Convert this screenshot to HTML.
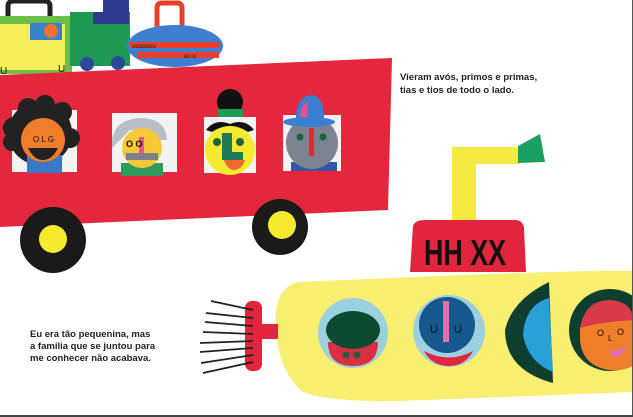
<!DOCTYPE html>
<html><head><meta charset="utf-8"><style>
html,body{margin:0;padding:0;background:#fff;}
svg{display:block;}
text{font-family:"Liberation Sans",sans-serif;}
</style></head><body>
<svg width="633" height="417" viewBox="0 0 633 417" xmlns="http://www.w3.org/2000/svg">
<rect width="633" height="417" fill="#fff"/>
<!-- train -->
<path d="M8 16 V6 Q8 1 14 1 H44 Q50 1 50 6 V16" fill="none" stroke="#222" stroke-width="5"/>
<rect x="0" y="16" width="72" height="58" fill="#6cc04a"/>
<rect x="0" y="24" width="65" height="46" fill="#f5ef5a"/>
<rect x="30" y="23" width="32" height="17" fill="#3b82c8"/>
<circle cx="51" cy="31" r="7" fill="#f07030"/>
<rect x="70" y="12" width="60" height="54" fill="#1e9a55"/>
<rect x="93" y="0" width="36" height="24" fill="#2d3b8a"/>
<rect x="93" y="0" width="10" height="12" fill="#fff"/>
<rect x="103" y="0" width="26" height="2" fill="#2d3b8a"/>
<circle cx="87" cy="64" r="7" fill="#2d4a9a"/>
<circle cx="118" cy="63" r="7" fill="#2d4a9a"/>
<text x="0" y="74" font-size="10" fill="#111">U</text>
<text x="58" y="72" font-size="10" fill="#111">U</text>
<!-- suitcase -->
<path d="M157 28 V8 Q157 3 162 3 H177 Q182 3 182 8 V28" fill="none" stroke="#e8402a" stroke-width="5"/>
<ellipse cx="175" cy="46" rx="48" ry="21" fill="#3f7fcf"/>
<rect x="129" y="42" width="90" height="6" fill="#e8402a"/>
<rect x="137" y="52" width="82" height="6" fill="#e8402a"/>
<text x="132" y="48" font-size="6" fill="#111">ʊʊʊʊʊʊʊ</text>
<text x="184" y="58" font-size="6" fill="#111">ʊʊ ʊ</text>
<!-- bus -->
<polygon points="0,75 392,58 388,210 0,227" fill="#e4273c"/>
<rect x="12" y="110" width="65" height="62" fill="#f3f3f3"/>
<rect x="112" y="113" width="65" height="59" fill="#f3f3f3"/>
<rect x="204" y="117" width="52" height="56" fill="#f3f3f3"/>
<rect x="283" y="115" width="58" height="56" fill="#f3f3f3"/>
<!-- face 1 -->
<g fill="#222">
<circle cx="40" cy="133" r="32"/>
<circle cx="14" cy="128" r="11"/><circle cx="12" cy="142" r="9"/><circle cx="70" cy="138" r="10"/>
<circle cx="28" cy="108" r="10"/><circle cx="45" cy="105" r="10"/><circle cx="62" cy="112" r="10"/>
</g>
<rect x="27" y="155" width="35" height="18" fill="#3b78c8"/>
<circle cx="43" cy="140" r="22" fill="#f07d2a"/>
<path d="M28 148 H58 Q52 160 43 160 Q34 160 28 148Z" fill="#222"/>
<text x="33" y="142" font-size="8" fill="#111">O L G</text>
<!-- face 2 -->
<path d="M112 148 Q110 120 140 118 Q166 118 167 140 L160 140 Q150 128 130 130 Z" fill="#b8bec6"/>
<rect x="121" y="163" width="42" height="13" fill="#2f9a5a"/>
<circle cx="142" cy="148" r="20" fill="#f6c83a"/>
<rect x="126" y="153" width="32" height="7" fill="#7d8088"/>
<rect x="139" y="137" width="5" height="16" fill="#e8508e"/>
<text x="126" y="147" font-size="9" fill="#111" font-weight="bold">O  O</text>
<!-- face 3 -->
<circle cx="230" cy="150" r="25" fill="#f5ea30"/>
<path d="M206 130 Q215 118 230 124 Q245 118 254 130 L248 132 Q230 120 212 132Z" fill="#111"/>
<circle cx="230" cy="102" r="13" fill="#111"/>
<rect x="218" y="109" width="25" height="8" fill="#1e9a55"/>
<path d="M222 133 H232 V152 H243 V160 H222Z" fill="#1e7a55"/>
<path d="M224 160 H245 Q242 170 233 170 Q226 168 224 160Z" fill="#f06a30"/>
<circle cx="217" cy="142" r="4" fill="#1e6040"/><circle cx="240" cy="142" r="4" fill="#1e6040"/>
<!-- face 4 -->
<rect x="291" y="162" width="46" height="9" fill="#3656a8"/>
<circle cx="312" cy="143" r="26" fill="#7d8290"/>
<path d="M296 121 Q295 97 311 95 Q325 96 324 121Z" fill="#3b7fd0"/>
<ellipse cx="309" cy="122" rx="26" ry="5" fill="#3b7fd0"/>
<path d="M300 117 Q301 104 308 102 L307 117Z" fill="#e8508e"/>
<rect x="309" y="128" width="5" height="28" fill="#e4273c"/>
<circle cx="300" cy="137" r="3.5" fill="#1e6040"/><circle cx="323" cy="137" r="3.5" fill="#1e6040"/>
<!-- wheels -->
<circle cx="53" cy="240" r="33" fill="#1a1a1a"/><circle cx="53" cy="239" r="14" fill="#f5ea30"/>
<circle cx="280" cy="227" r="28" fill="#1a1a1a"/><circle cx="282" cy="225" r="14" fill="#f5ea30"/>
<!-- text top -->
<text x="400" y="80" font-size="9.5" font-weight="bold" fill="#222">Vieram avós, primos e primas,</text>
<text x="400" y="93" font-size="9.5" font-weight="bold" fill="#222">tias e tios de todo o lado.</text>
<!-- periscope -->
<rect x="452" y="150" width="24" height="72" fill="#f5ea40"/>
<rect x="452" y="147" width="68" height="17" fill="#f5ea40"/>
<polygon points="518,146 540,134 545,162 518,163" fill="#1aa060"/>
<!-- tower -->
<path d="M410 272 L413 226 Q415 220 425 220 H515 Q523 220 524 228 L526 272Z" fill="#e0253c"/>
<text x="424" y="265" font-size="36" font-weight="bold" fill="#111" textLength="82" lengthAdjust="spacingAndGlyphs">HH XX</text>
<!-- sub body -->
<path d="M300 282 Q280 285 276 310 Q272 360 300 390 Q320 402 400 401 L633 392 V271 Q560 270 300 282Z" fill="#f8ee70"/>
<!-- tail -->
<rect x="258" y="324" width="20" height="15" fill="#e0253c"/>
<rect x="245" y="301" width="17" height="70" rx="7" fill="#e0253c"/>
<g stroke="#222" stroke-width="1.8" fill="none">
<path d="M211 301 L253 310"/><path d="M206 313 L253 318"/><path d="M205 322 L253 326"/>
<path d="M203 332 L253 334"/><path d="M200 343 L253 341"/><path d="M200 352 L253 348"/>
<path d="M201 363 L253 355"/><path d="M203 373 L253 362"/>
</g>
<!-- portholes -->
<circle cx="353" cy="333" r="35" fill="#9cd0e0"/>
<path d="M328 342 L378 342 Q378 366 353 366 Q328 366 328 342Z" fill="#d83040"/>
<ellipse cx="353" cy="330" rx="27" ry="19" fill="#0d4a32"/>
<circle cx="346" cy="355" r="3.5" fill="#1e6040"/><circle cx="357" cy="355" r="3.5" fill="#1e6040"/>
<circle cx="449" cy="331" r="36" fill="#9cd0e0"/>
<circle cx="447" cy="325" r="28" fill="#16578c"/>
<path d="M424 351 Q449 364 473 351 Q465 366 449 366 Q432 366 424 351Z" fill="#e0253c"/>
<rect x="443" y="301" width="6" height="41" fill="#e070b0"/>
<text x="430" y="333" font-size="11" fill="#111">U</text><text x="454" y="333" font-size="11" fill="#111">U</text>
<path d="M549 282 Q512 300 505 330 Q505 370 553 383Z" fill="#0d3e30"/>
<path d="M549 298 Q525 305 523 335 Q528 362 553 372Z" fill="#2aa0d8"/>
<circle cx="610" cy="330" r="41" fill="#0d3e30"/>
<path d="M580 328 Q585 300 610 300 Q633 302 633 320 V330 Z" fill="#d83a4a"/>
<path d="M580 328 Q600 322 633 320 V366 Q620 372 608 370 Q582 365 580 340Z" fill="#f07d2a"/>
<path d="M609 350 Q620 352 626 345 Q624 358 612 357Z" fill="#e070b0"/>
<text x="597" y="336" font-size="9" fill="#111">O</text><text x="617" y="335" font-size="9" fill="#111">O</text><text x="608" y="341" font-size="8" fill="#111">L</text>
<!-- bottom text -->
<text x="30" y="337" font-size="9.5" font-weight="bold" fill="#222">Eu era tão pequenina, mas</text>
<text x="30" y="349" font-size="9.5" font-weight="bold" fill="#222">a família que se juntou para</text>
<text x="30" y="361" font-size="9.5" font-weight="bold" fill="#222">me conhecer não acabava.</text>
<!-- page border -->
<rect x="632" y="0" width="1" height="417" fill="#555"/>
<rect x="0" y="415" width="633" height="2" fill="#444"/>
</svg>
</body></html>
